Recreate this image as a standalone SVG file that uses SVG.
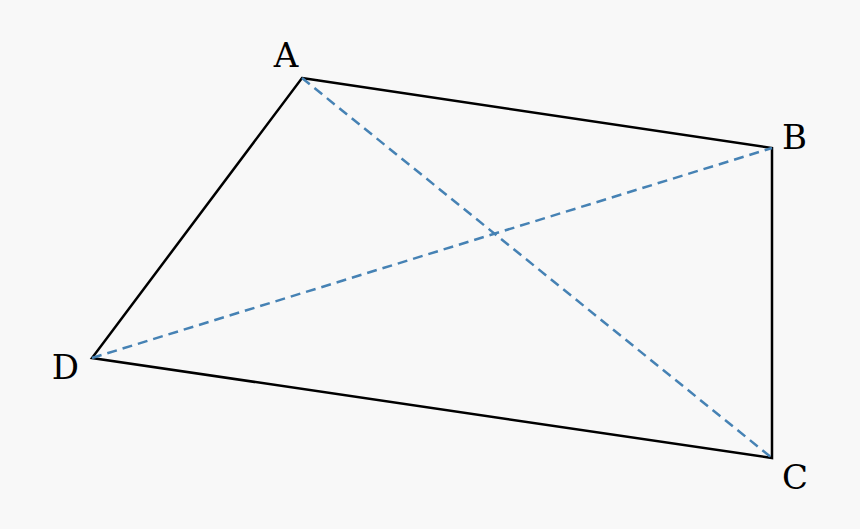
<svg xmlns="http://www.w3.org/2000/svg" width="860" height="529" viewBox="0 0 860 529">
<style>
.lbl{font-family:"DejaVu Serif","Liberation Serif",serif;font-size:34px;fill:#000}
.edge{fill:none;stroke:#000;stroke-width:2.5}
.diag{stroke:#4682b4;stroke-width:2.5;stroke-dasharray:10,6}
</style>
<rect width="860" height="529" fill="#f8f8f8"/>
<g id="connectors">
<polygon class="edge" points="302,78 772,148 772,458 92,358"/>
<line class="diag" x1="302" y1="78" x2="772" y2="458"/>
<line class="diag" x1="92" y1="358" x2="772" y2="148"/>
</g>
<g id="A"><text class="lbl" x="286" y="67" text-anchor="middle">A</text></g>
<g id="B"><text class="lbl" x="782" y="149">B</text></g>
<g id="C"><text class="lbl" x="782" y="489">C</text></g>
<g id="D"><text class="lbl" x="79" y="379" text-anchor="end">D</text></g>
</svg>
